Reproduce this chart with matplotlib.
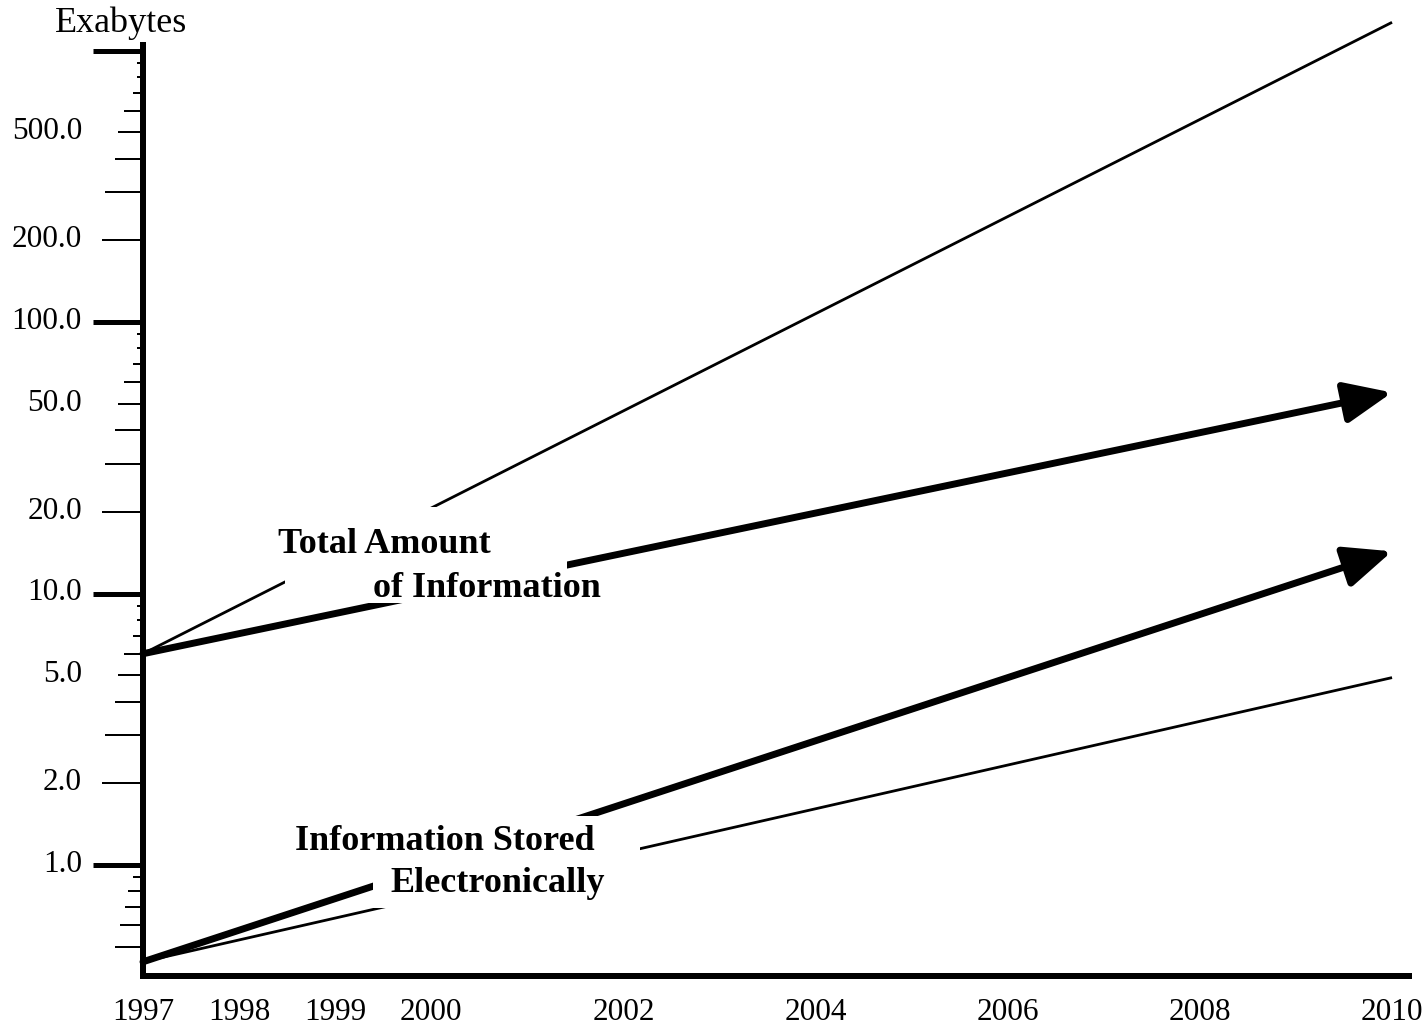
import matplotlib
matplotlib.use('Agg')
import matplotlib.pyplot as plt
from matplotlib.patches import Rectangle
from matplotlib.ticker import FixedLocator, NullLocator
from matplotlib.transforms import ScaledTranslation

plt.rcParams['font.family'] = ['Liberation Serif', 'DejaVu Serif']

# ---------------- data ----------------
years = [1997, 2010]
total_upper = [6.0, 1270.0]    # thin line
total_lower = [6.0, 55.0]      # thick arrow
stored_upper = [0.44, 14.3]    # thick arrow
stored_lower = [0.44, 4.9]     # thin line

x_ticks = [1997, 1998, 1999, 2000, 2002, 2004, 2006, 2008, 2010]
x_labels = [str(v) for v in x_ticks]
y_label_values = [1, 2, 5, 10, 20, 50, 100, 200, 500]
y_labels = ['1.0', '2.0', '5.0', '10.0', '20.0', '50.0', '100.0', '200.0', '500.0']
y_major_ticks = [1, 10, 100, 1000]
y_axis_title = 'Exabytes'
label_total = ['Total Amount', 'of Information']
label_stored = ['Information Stored', 'Electronically']

# ---------------- layout ----------------
W, H = 1425, 1024
DPI = 100
PX = 72.0 / DPI  # points per pixel

fig = plt.figure(figsize=(W / DPI, H / DPI), dpi=DPI)


def fx(px):
    return px / W


def fy(py):
    return 1 - py / H


y0_px, dec_px = 865.0, 271.5
ylim = (10 ** (-(976 - y0_px) / dec_px), 10 ** (y0_px / dec_px))
xlim = (1997, 1997 + (1409 - 143) / 96.08)
rect = [fx(143), fy(976), fx(1409) - fx(143), 1 - fy(976)]

ax = fig.add_axes(rect)
ax.set_yscale('log')
ax.set_xlim(*xlim)
ax.set_ylim(*ylim)
for s in ('top', 'right'):
    ax.spines[s].set_visible(False)
for s in ('left', 'bottom'):
    ax.spines[s].set_linewidth(6 * PX)
    ax.spines[s].set_capstyle('projecting')
ax.spines['left'].set_bounds(ylim[0], 10 ** ((y0_px - 45) / dec_px))

ax.set_xticks(x_ticks, x_labels)
ax.tick_params(axis='x', length=0, pad=15.5, labelsize=22.5)
ax.yaxis.set_major_locator(FixedLocator(y_major_ticks))
ax.yaxis.set_minor_locator(NullLocator())
ax.tick_params(axis='y', which='major', length=50 * PX, width=5 * PX,
               labelleft=False, direction='out', color='black')


def overlay():
    o = fig.add_axes(rect)
    o.set_yscale('log')
    o.set_xlim(*xlim)
    o.set_ylim(*ylim)
    o.patch.set_visible(False)
    for sp in o.spines.values():
        sp.set_visible(False)
    o.xaxis.set_visible(False)
    o.yaxis.set_minor_locator(NullLocator())
    return o


# minor ticks of varying length (pixels)
minor_groups = {
    41: [2, 20, 200],
    38: [3, 30, 300],
    28: [4, 40, 400, 0.5],
    25: [5, 50, 500],
    23: [0.6],
    19: [6, 60, 600],
    18: [0.7],
    15: [0.8],
    10: [7, 70, 700, 0.9],
    6: [8, 80, 800, 9, 90, 900],
}
for length, vals in minor_groups.items():
    o = overlay()
    o.yaxis.set_major_locator(FixedLocator(vals))
    o.tick_params(axis='y', length=length * PX, width=2 * PX,
                  labelleft=False, direction='out')

lab = overlay()
lab.set_yticks(y_label_values, y_labels)
lab.yaxis.set_minor_locator(NullLocator())
lab.tick_params(axis='y', length=0, pad=44, labelsize=22.5)
shift = ScaledTranslation(0, 4 / DPI, fig.dpi_scale_trans)
for t in lab.yaxis.get_major_ticks():
    t.label1.set_transform(t.label1.get_transform() + shift)

# ---------------- lines ----------------
ax.plot(years, total_upper, color='black', lw=2.0, solid_capstyle='butt', zorder=2)
ax.plot(years, stored_lower, color='black', lw=2.0, solid_capstyle='butt', zorder=2)
for vals in (total_lower, stored_upper):
    ax.annotate('', xy=(years[1], vals[1]), xytext=(years[0], vals[0]),
                arrowprops=dict(arrowstyle='-|>,head_length=29,head_width=12.5',
                                mutation_scale=1, lw=5, color='black',
                                shrinkA=0, shrinkB=0),
                annotation_clip=False, zorder=3)

# white boxes behind the labels
for (x0, y0, x1, y1) in [(285, 507, 567, 603), (373, 816, 640, 908)]:
    ax.add_patch(Rectangle((fx(x0), fy(y1)), fx(x1) - fx(x0), fy(y0) - fy(y1),
                           transform=fig.transFigure, facecolor='white',
                           edgecolor='none', zorder=5, clip_on=False))

for txt, (px, py) in zip(label_total + label_stored,
                         [(278, 553), (373, 597), (295, 850), (390, 892)]):
    ax.text(fx(px), fy(py), txt, transform=fig.transFigure, fontsize=26,
            fontweight='bold', ha='left', va='baseline', zorder=6)

fig.text(fx(55), fy(32), y_axis_title, fontsize=26, ha='left', va='baseline')

fig.savefig('out.png', dpi=DPI)
